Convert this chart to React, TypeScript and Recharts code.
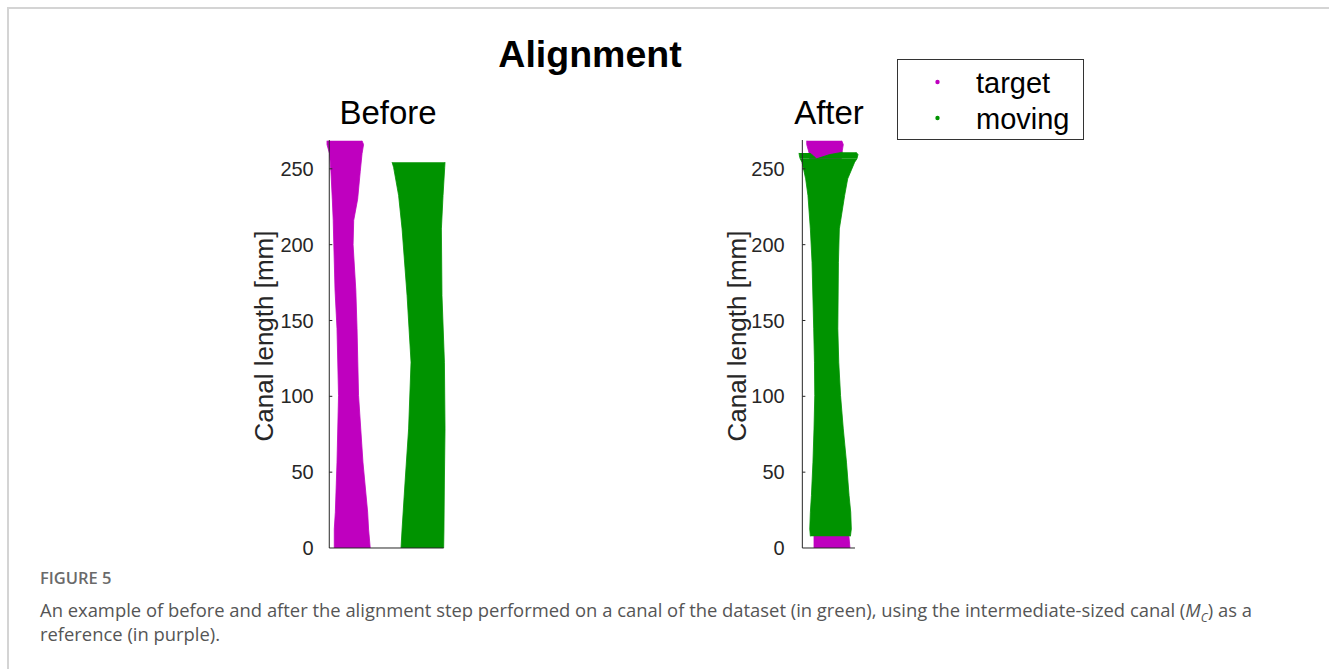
import { ComposedChart, Area, XAxis, YAxis, ReferenceLine } from 'recharts';

type Band = { y: number; x: [number, number] };

const PX_PER_MM = 1.517;
const Y_MAX = 269;
const yTicks = [0, 50, 100, 150, 200, 250];
const AXIS_W = 130;
const AXIS_COLOR = '#262626';

const TARGET_COLOR = '#bf00bf';
const MOVING_COLOR = '#009300';

// canal outlines: y = position along the canal [mm], x = [left, right] edge [mm]
const targetCanal: Band[] = [
  { y: 268.5, x: [-1.5, 21.6] },
  { y: 266, x: [-1.5, 22.6] },
  { y: 260, x: [0.2, 21.6] },
  { y: 248, x: [1.1, 20.4] },
  { y: 230, x: [2.0, 18.7] },
  { y: 216, x: [2.6, 16.1] },
  { y: 200, x: [3.0, 15.7] },
  { y: 170, x: [3.8, 17.5] },
  { y: 144.5, x: [5.1, 18.3] },
  { y: 100.5, x: [6.1, 19.3] },
  { y: 56.6, x: [5.1, 22.2] },
  { y: 23.6, x: [4.0, 25.3] },
  { y: 12.5, x: [3.3, 25.9] },
  { y: 0, x: [3.3, 27.0] },
];

const movingBefore: Band[] = [
  { y: 254.4, x: [41.4, 76.3] },
  { y: 251, x: [42.4, 76.1] },
  { y: 232.5, x: [45.7, 75.0] },
  { y: 210.4, x: [48.0, 73.9] },
  { y: 166.4, x: [51.3, 74.3] },
  { y: 122.5, x: [53.9, 75.9] },
  { y: 78.5, x: [52.3, 76.3] },
  { y: 45.5, x: [50.1, 75.9] },
  { y: 12.5, x: [48.0, 75.6] },
  { y: 0, x: [47.3, 75.4] },
];

const movingAfter: Band[] = [
  { y: 256.6, x: [-5.8, 31.6] },
  { y: 254.4, x: [-4.6, 30.1] },
  { y: 243.4, x: [-2.2, 25.5] },
  { y: 232.5, x: [-0.7, 23.5] },
  { y: 210.4, x: [0.9, 20.0] },
  { y: 188.4, x: [2.0, 19.4] },
  { y: 144.5, x: [3.1, 19.0] },
  { y: 122.5, x: [3.6, 19.6] },
  { y: 100.5, x: [3.8, 20.8] },
  { y: 78.5, x: [3.3, 22.6] },
  { y: 56.6, x: [2.6, 24.7] },
  { y: 34.6, x: [1.6, 26.4] },
  { y: 23.6, x: [0.9, 27.5] },
  { y: 12.5, x: [0.5, 27.9] },
  { y: 7.7, x: [0.9, 27.3] },
];

// the ragged top of the aligned canal, left and right of the dip
const movingAfterTopLeft: Band[] = [
  { y: 256.6, x: [-5.8, 4.9] },
  { y: 258.5, x: [-6.3, 3.0] },
  { y: 260.5, x: [-6.6, 0.5] },
];
const movingAfterTopRight: Band[] = [
  { y: 256.6, x: [4.9, 31.6] },
  { y: 259.4, x: [13.6, 32.3] },
  { y: 261, x: [22.4, 31.0] },
];

const legendItems = [
  { label: 'target', color: TARGET_COLOR },
  { label: 'moving', color: MOVING_COLOR },
];

interface Layer {
  key: string;
  data: Band[];
  color: string;
}

interface PanelProps {
  layers: Layer[];
  axisX: [number, number]; // extent of the drawn x axis [mm]
  originX: number; // page x of x = 0 mm
  labelX: number; // page x of the y label centre
}

function CanalPanel({ layers, axisX, originX, labelX }: PanelProps) {
  const xs = layers.flatMap((l) => l.data.flatMap((d) => d.x));
  const xMin = Math.min(axisX[0], ...xs);
  const xMax = Math.max(axisX[1], ...xs);
  const plotW = (xMax - xMin) * PX_PER_MM;
  const chartLeft = originX + xMin * PX_PER_MM - AXIS_W;
  const tickGap = 11 + (axisX[0] - xMin) * PX_PER_MM;
  const x0 = axisX[0];

  return (
    <div style={{ position: 'absolute', left: chartLeft, top: 130 }}>
      <ComposedChart
        layout="vertical"
        width={AXIS_W + plotW + 10}
        height={430}
        margin={{ top: 10, right: 10, bottom: 12, left: 0 }}
      >
        <XAxis type="number" dataKey="x" domain={[xMin, xMax]} hide />
        <YAxis
          type="number"
          dataKey="y"
          domain={[0, Y_MAX]}
          ticks={yTicks}
          reversed
          width={AXIS_W}
          axisLine={false}
          tickLine={false}
          tickSize={0}
          tickMargin={tickGap}
          tick={{ fontSize: 20, fill: AXIS_COLOR, fontFamily: '"Liberation Sans", Arial, sans-serif' }}
          label={{
            value: 'Canal length [mm]',
            angle: -90,
            position: 'center',
            dx: labelX - (chartLeft + AXIS_W / 2),
            dy: -8,
            fontSize: 26,
            fill: AXIS_COLOR,
            fontFamily: '"Liberation Sans", Arial, sans-serif',
          }}
        />
        {layers.map((l) => (
          <Area
            key={l.key}
            data={l.data}
            dataKey="x"
            type="linear"
            fill={l.color}
            fillOpacity={1}
            stroke={l.color}
            strokeWidth={0.8}
            dot={false}
            activeDot={false}
            isAnimationActive={false}
          />
        ))}
        {/* MATLAB style axes: only left and bottom, inward ticks */}
        <ReferenceLine segment={[{ x: x0, y: 0 }, { x: x0, y: Y_MAX }]} stroke={AXIS_COLOR} strokeWidth={1} ifOverflow="visible" />
        <ReferenceLine segment={[{ x: x0, y: 0 }, { x: axisX[1], y: 0 }]} stroke={AXIS_COLOR} strokeWidth={1} ifOverflow="visible" />
        {yTicks.slice(1).map((t) => (
          <ReferenceLine key={t} segment={[{ x: x0, y: t }, { x: x0 + 2, y: t }]} stroke={AXIS_COLOR} strokeWidth={1} ifOverflow="visible" />
        ))}
      </ComposedChart>
    </div>
  );
}

export default function App() {
  const font = '"Liberation Sans", Arial, sans-serif';
  return (
    <div
      style={{
        position: 'absolute',
        left: 0,
        top: 0,
        width: 1329,
        height: 669,
        background: '#fff',
        overflow: 'hidden',
      }}
    >
      <div
        style={{
          position: 'absolute',
          left: 7,
          top: 7,
          right: 0,
          bottom: 0,
          borderTop: '2px solid #d4d4d4',
          borderLeft: '2px solid #d4d4d4',
        }}
      />

      <CanalPanel
        layers={[
          { key: 'target', data: targetCanal, color: TARGET_COLOR },
          { key: 'moving', data: movingBefore, color: MOVING_COLOR },
        ]}
        axisX={[0, 75.4]}
        originX={329.3}
        labelX={264}
      />
      <CanalPanel
        layers={[
          { key: 'target', data: targetCanal, color: TARGET_COLOR },
          { key: 'moving', data: movingAfter, color: MOVING_COLOR },
          { key: 'movingTopL', data: movingAfterTopLeft, color: MOVING_COLOR },
          { key: 'movingTopR', data: movingAfterTopRight, color: MOVING_COLOR },
        ]}
        axisX={[-4.4, 30.3]}
        originX={809.3}
        labelX={737}
      />

      <svg
        width={1329}
        height={669}
        style={{ position: 'absolute', left: 0, top: 0, pointerEvents: 'none' }}
        fontFamily={font}
      >
        <text x={590} y={67} textAnchor="middle" fontSize={37.5} fontWeight="bold" fill="#000">
          Alignment
        </text>
        <text x={388} y={124} textAnchor="middle" fontSize={33} fill="#000">
          Before
        </text>
        <text x={829} y={124} textAnchor="middle" fontSize={33} fill="#000">
          After
        </text>

        {/* legend */}
        <rect x={897.5} y={59.5} width={186} height={80} fill="#fff" stroke="#333" strokeWidth={1} />
        {legendItems.map((item, i) => (
          <g key={item.label}>
            <circle cx={937.5} cy={82 + i * 36} r={2.2} fill={item.color} />
            <text x={976} y={93 + i * 36} fontSize={29} fill="#000">
              {item.label}
            </text>
          </g>
        ))}
      </svg>

      <div
        style={{
          position: 'absolute',
          left: 40,
          top: 568,
          fontFamily: '"Open Sans", sans-serif',
          fontSize: 16.5,
          fontWeight: 600,
          color: '#6a6a6a',
          lineHeight: '20px',
        }}
      >
        FIGURE 5
      </div>
      <div
        style={{
          position: 'absolute',
          left: 40,
          top: 598,
          width: 1270,
          fontFamily: '"Open Sans", sans-serif',
          fontSize: 18.4,
          color: '#555',
          lineHeight: '24px',
          whiteSpace: 'nowrap',
        }}
      >
        An example of before and after the alignment step performed on a canal of the dataset (in green), using the
        intermediate-sized canal (<i>M</i>
        <sub style={{ fontSize: 12, fontStyle: 'italic', lineHeight: 0 }}>C</sub>) as a
        <br />
        reference (in purple).
      </div>
    </div>
  );
}
